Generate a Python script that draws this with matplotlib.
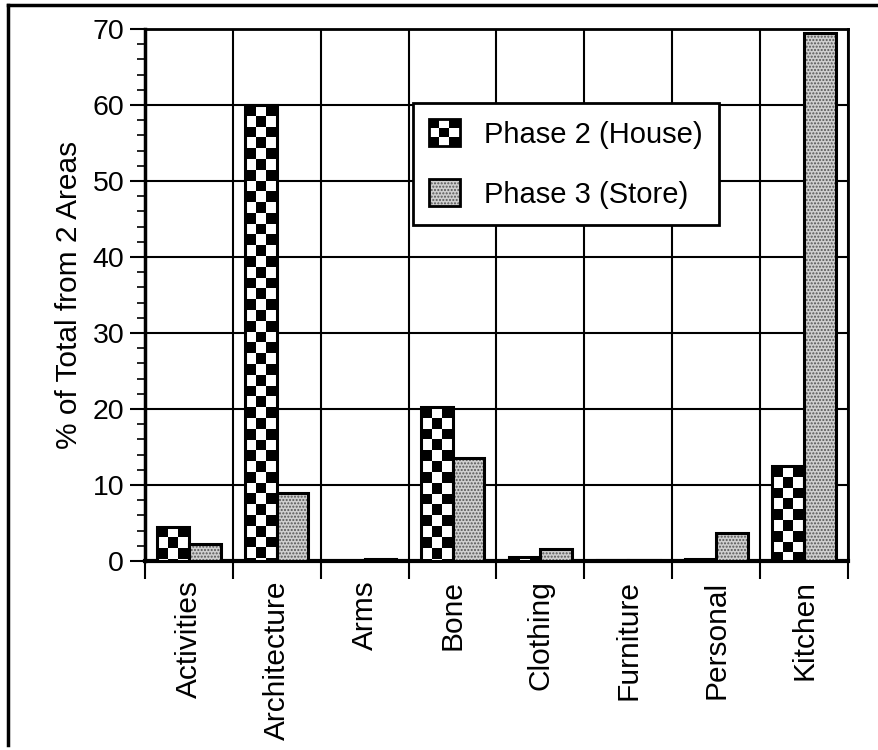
import numpy as np
import matplotlib
matplotlib.use("Agg")
import matplotlib.pyplot as plt
from matplotlib.patches import Rectangle
from matplotlib.legend_handler import HandlerBase
from matplotlib.lines import Line2D

plt.rcParams['font.family'] = ['Liberation Sans', 'DejaVu Sans']

categories = ["Activities", "Architecture", "Arms", "Bone", "Clothing",
              "Furniture", "Personal", "Kitchen"]
phase2_house = [4.5, 60.0, 0.0, 20.2, 0.5, 0.1, 0.2, 12.5]
phase3_store = [2.2, 9.0, 0.2, 13.5, 1.6, 0.1, 3.7, 69.5]
series_labels = ["Phase 2 (House)", "Phase 3 (Store)"]
y_ticks = [0, 10, 20, 30, 40, 50, 60, 70]

fig = plt.figure(figsize=(8.79, 7.5), dpi=100)
ax = fig.add_axes([145/879, 1-561/750, (848-145)/879, (561-29)/750])

x = np.arange(len(categories))
bw = 0.36
off = 0.0

# Phase 2: checkerboard bars
b2 = ax.bar(x - bw/2 + off, phase2_house, width=bw, color='black',
            edgecolor='black', linewidth=2, zorder=3)
cell_y = 1.42
for rect in b2:
    h = rect.get_height()
    if h <= 0:
        continue
    x0 = rect.get_x(); w = rect.get_width()
    nrows = int(np.ceil(h / cell_y)) + 1
    img = np.indices((nrows, 3)).sum(axis=0) % 2
    top = h
    im = ax.imshow(img, cmap='gray', vmin=0, vmax=1, interpolation='nearest',
                   extent=(x0, x0 + w, top - nrows*cell_y, top), origin='upper',
                   aspect='auto', zorder=3.5)
    im.set_clip_path(rect)
ax.bar(x - bw/2 + off, phase2_house, width=bw, facecolor='none',
       edgecolor='black', linewidth=2.2, zorder=4)

# Phase 3: stippled grey bars
ax.bar(x + bw/2 + off, phase3_store, width=bw, facecolor='#cfcfcf',
       edgecolor='#555555', hatch='.....', linewidth=0, zorder=3)
ax.bar(x + bw/2 + off, phase3_store, width=bw, facecolor='none',
       edgecolor='black', linewidth=2.2, zorder=4)

ax.set_xlim(-0.5, len(categories) - 0.5)
ax.set_ylim(0, 70)
ax.set_aspect('auto')

ax.set_xticks(np.arange(len(categories) + 1) - 0.5)
ax.set_xticklabels([])
ax.set_xticks(x, minor=True)
ax.set_xticklabels(categories, minor=True, rotation=90, fontsize=21.5)
ax.tick_params(axis='x', which='major', direction='out', length=13, width=1.5)
ax.tick_params(axis='x', which='minor', length=0, pad=14)

ax.set_yticks(y_ticks)
ax.set_yticks(np.arange(0, 71, 2), minor=True)
ax.tick_params(axis='y', which='major', direction='out', length=11, width=1.5,
               labelsize=20.5, pad=4)
ax.tick_params(axis='y', which='minor', direction='out', length=6, width=1.2)

ax.grid(True, which='major', color='black', linewidth=1.5, zorder=1)
ax.set_axisbelow(True)
for s in ax.spines.values():
    s.set_linewidth(2)
ax.spines['bottom'].set_linewidth(3)
ax.spines['left'].set_linewidth(2.5)

ax.set_ylabel("% of Total from 2 Areas", fontsize=21.5)
ax.yaxis.set_label_coords(-0.088, 0.5)


class HandlerChecker(HandlerBase):
    def create_artists(self, legend, orig_handle, xdescent, ydescent,
                       width, height, fontsize, trans):
        arts = []
        n = 3
        cw = width / n; ch = height / n
        for i in range(n):
            for j in range(n):
                c = 'black' if (i + j) % 2 == 0 else 'white'
                r = Rectangle((-xdescent + i*cw, -ydescent + j*ch), cw, ch,
                              facecolor=c, edgecolor='none', transform=trans)
                arts.append(r)
        arts.append(Rectangle((-xdescent, -ydescent), width, height,
                              facecolor='none', edgecolor='black',
                              linewidth=2, transform=trans))
        return arts


class HandlerStipple(HandlerBase):
    def create_artists(self, legend, orig_handle, xdescent, ydescent,
                       width, height, fontsize, trans):
        r1 = Rectangle((-xdescent, -ydescent), width, height, facecolor='#cfcfcf',
                       edgecolor='#555555', hatch='.....', linewidth=0,
                       transform=trans)
        r2 = Rectangle((-xdescent, -ydescent), width, height, facecolor='none',
                       edgecolor='black', linewidth=2, transform=trans)
        return [r1, r2]


class CheckerKey: pass
class StippleKey: pass

leg = ax.legend([CheckerKey(), StippleKey()], series_labels,
                handler_map={CheckerKey: HandlerChecker(), StippleKey: HandlerStipple()},
                loc='upper left', bbox_to_anchor=((413-145)/703, (561-103)/532),
                borderaxespad=0, fontsize=21, frameon=True, fancybox=False,
                edgecolor='black', framealpha=1, handlelength=1.05,
                handleheight=1.05, handletextpad=0.85, labelspacing=1.05,
                borderpad=0.55)
leg.get_frame().set_linewidth(2)
leg.set_zorder(6)

# outer frame (left and top edges)
fig.add_artist(Line2D([8/879, 8/879], [1-5/750, 1-745/750], color='black',
                      linewidth=2.5, transform=fig.transFigure))
fig.add_artist(Line2D([8/879, 1.0], [1-5/750, 1-5/750], color='black',
                      linewidth=2.5, transform=fig.transFigure))

fig.savefig("out.png", dpi=100)
